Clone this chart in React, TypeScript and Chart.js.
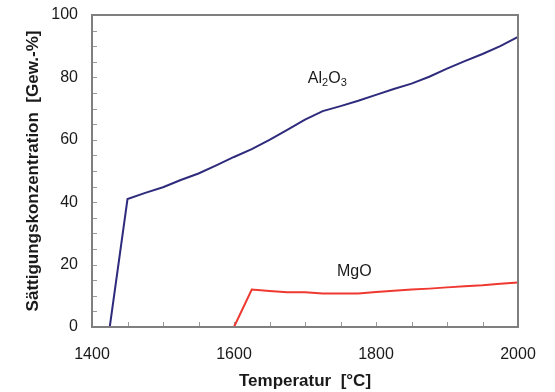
import React, { useEffect, useRef } from "react";
import { Chart, registerables } from "chart.js";

Chart.register(...registerables);

// ---- data ----
const al2o3Temps = [1425, 1450, 1475, 1500, 1525, 1550, 1575, 1600, 1625, 1650, 1675, 1700, 1725, 1750, 1775, 1800, 1825, 1850, 1875, 1900, 1925, 1950, 1975, 2000];
const al2o3Values = [0, 41, 43, 44.8, 47.1, 49.2, 51.8, 54.5, 57, 60, 63.2, 66.5, 69.2, 70.8, 72.5, 74.4, 76.3, 78, 80.2, 82.8, 85.2, 87.5, 90, 93];

const mgoTemps = [1600, 1625, 1650, 1675, 1700, 1725, 1750, 1775, 1800, 1825, 1850, 1875, 1900, 1925, 1950, 1975, 2000];
const mgoValues = [0, 12, 11.5, 11.1, 11.1, 10.7, 10.7, 10.7, 11.2, 11.6, 12, 12.3, 12.7, 13.1, 13.4, 13.9, 14.3];

const xTickLabels = [1400, 1600, 1800, 2000];
const yTickLabels = [0, 20, 40, 60, 80, 100];

const xTitle = "Temperatur  [°C]";
const yTitle = "Sättigungskonzentration  [Gew.-%]";

// series labels: text parts (subscript flag), anchored at data coords
const seriesLabels = [
  { parts: [["Al", false], ["2", true], ["O", false], ["3", true]], x: 1704, y: 78.2 },
  { parts: [["MgO", false]], x: 1745, y: 16.2 },
];

const FONT = "'Liberation Sans', Arial, sans-serif";
const AL_COLOR = "#2f2b7c";
const MGO_COLOR = "#ee3830";

const framePlugin = {
  id: "frameAndTicks",
  beforeDatasetsDraw(chart: any) {
    const { ctx, chartArea } = chart;
    const xs = chart.scales.x;
    const ys = chart.scales.y;
    ctx.save();
    ctx.strokeStyle = "#9a9a9a";
    ctx.lineWidth = 1;
    ctx.beginPath();
    xs.ticks.forEach((t: any) => {
      const px = Math.round(xs.getPixelForValue(t.value)) + 0.5;
      ctx.moveTo(px, chartArea.bottom);
      ctx.lineTo(px, chartArea.bottom - 5);
    });
    ys.ticks.forEach((t: any) => {
      const py = Math.round(ys.getPixelForValue(t.value)) + 0.5;
      ctx.moveTo(chartArea.left, py);
      ctx.lineTo(chartArea.left + 5, py);
    });
    ctx.stroke();
    ctx.restore();
  },
  afterDatasetsDraw(chart: any) {
    const { ctx, chartArea } = chart;
    ctx.save();
    ctx.strokeStyle = "#7f7f7f";
    ctx.lineWidth = 2;
    ctx.strokeRect(chartArea.left, chartArea.top, chartArea.right - chartArea.left, chartArea.bottom - chartArea.top);
    const xs = chart.scales.x;
    const ys = chart.scales.y;
    ctx.fillStyle = "#1a1a1a";
    ctx.textBaseline = "alphabetic";
    ctx.textAlign = "left";
    seriesLabels.forEach((lab) => {
      let px = xs.getPixelForValue(lab.x);
      const py = ys.getPixelForValue(lab.y);
      lab.parts.forEach(([txt, sub]) => {
        ctx.font = sub ? `11px ${FONT}` : `16px ${FONT}`;
        ctx.fillText(txt as string, px, sub ? py + 3 : py);
        px += ctx.measureText(txt as string).width;
      });
    });
    ctx.restore();
  },
};

export default function App() {
  const ref = useRef<HTMLCanvasElement | null>(null);
  useEffect(() => {
    if (!ref.current) return;
    const chart = new Chart(ref.current, {
      type: "line",
      data: {
        datasets: [
          {
            label: "Al2O3",
            data: al2o3Temps.map((t, i) => ({ x: t, y: al2o3Values[i] })),
            borderColor: AL_COLOR,
            borderWidth: 2,
            pointRadius: 0,
            tension: 0,
          },
          {
            label: "MgO",
            data: mgoTemps.map((t, i) => ({ x: t, y: mgoValues[i] })),
            borderColor: MGO_COLOR,
            borderWidth: 2,
            pointRadius: 0,
            tension: 0,
          },
        ],
      },
      options: {
        animation: false,
        responsive: false,
        layout: { padding: { left: 0, right: 37, top: 15, bottom: 0 } },
        plugins: { legend: { display: false }, tooltip: { enabled: false } },
        scales: {
          x: {
            type: "linear",
            min: 1400,
            max: 2000,
            grid: { display: false, drawTicks: false },
            border: { display: false },
            ticks: {
              stepSize: 50,
              autoSkip: false,
              maxRotation: 0,
              padding: 18,
              color: "#1a1a1a",
              font: { family: FONT, size: 16 },
              callback: (v: any) => (xTickLabels.includes(Number(v)) ? String(v) : ""),
            },
            title: {
              display: true,
              text: xTitle,
              color: "#1a1a1a",
              font: { family: FONT, size: 17, weight: "bold" },
              padding: { top: 0, bottom: 0 },
            },
            afterFit: (s: any) => {
              s.height = 65;
              s.paddingLeft = 0;
              s.paddingRight = 0;
            },
          },
          y: {
            min: 0,
            max: 100,
            grid: { display: false, drawTicks: false },
            border: { display: false },
            ticks: {
              stepSize: 5,
              autoSkip: false,
              padding: 14,
              color: "#1a1a1a",
              font: { family: FONT, size: 16 },
              callback: (v: any) => (yTickLabels.includes(Number(v)) ? String(v) : ""),
            },
            title: {
              display: true,
              text: yTitle,
              color: "#1a1a1a",
              font: { family: FONT, size: 17, weight: "bold" },
              padding: { top: 23, bottom: 0 },
            },
            afterFit: (s: any) => {
              s.width = 92;
              s.paddingTop = 0;
              s.paddingBottom = 0;
            },
          },
        },
      },
      plugins: [framePlugin],
    });
    return () => chart.destroy();
  }, []);
  return (
    <div style={{ position: "fixed", left: 0, top: 0, width: 555, height: 392, background: "#fff" }}>
      <canvas ref={ref} width={555} height={392} style={{ display: "block" }} />
    </div>
  );
}
